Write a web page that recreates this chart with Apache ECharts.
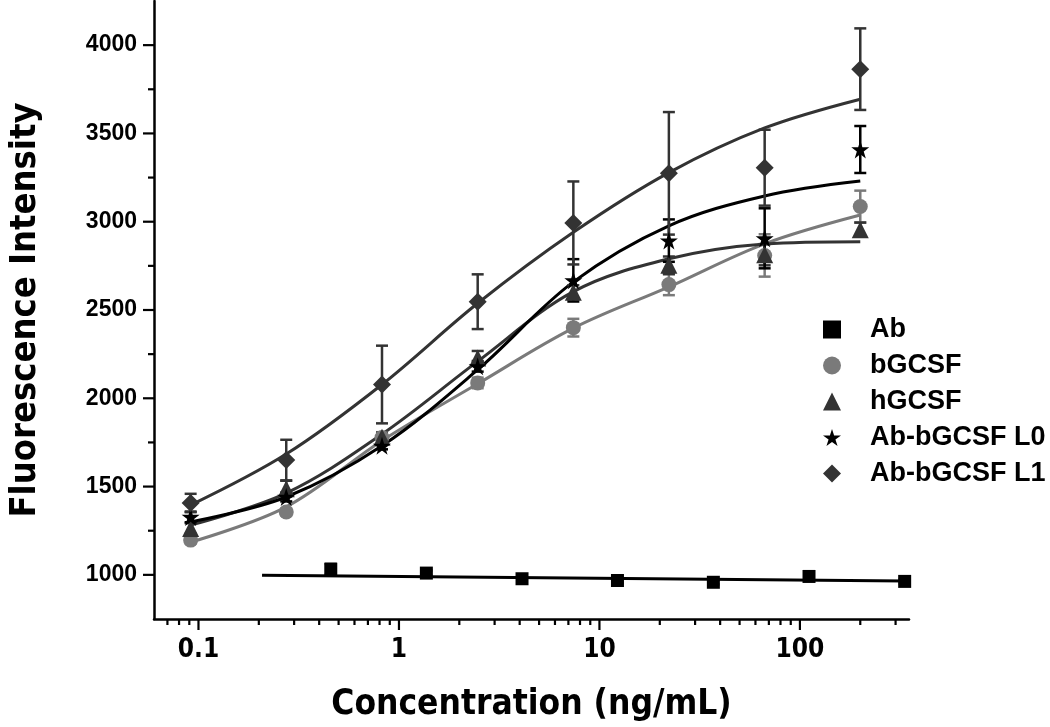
<!DOCTYPE html>
<html>
<head>
<meta charset="utf-8">
<script src="https://cdn.jsdelivr.net/npm/echarts@6/dist/echarts.min.js"></script>
<style>html,body{margin:0;padding:0;background:#fff;}#chart{width:1050px;height:727px;}</style>
</head>
<body>
<div id="chart"></div>
<script>
// ---- data ----
var xMain = [0.0914, 0.274, 0.823, 2.47, 7.41, 22.2, 66.7, 200];
var xAb = [0.457, 1.37, 4.11, 12.3, 37.0, 111, 333];

var abY = [1032, 1010, 978, 968, 958, 991, 963];
var abErr = [30, 15, 12, 12, 12, 15, 12];
var abFitX = [0.2075, 333];
var abFitY = [998, 965];

var bY = [1197, 1356, 1778, 2087, 2400, 2644, 2809, 3086];
var bErr = [20, 20, 30, 30, 50, 60, 120, 90];
var bFit = [1185, 1385, 1760, 2082, 2397, 2631, 2875, 3038];

var hY = [1263, 1488, 1780, 2228, 2600, 2753, 2813, 2955];
var hErr = [30, 45, 25, 40, 40, 50, 60, 40];
var hFit = [1282, 1463, 1797, 2209, 2604, 2790, 2874, 2887];

var l0Y = [1328, 1441, 1731, 2181, 2668, 2893, 2906, 3409];
var l0Err = [30, 25, 20, 30, 120, 120, 170, 133];
var l0Fit = [1300, 1441, 1731, 2162, 2659, 2977, 3146, 3230];

var l1Y = [1407, 1650, 2078, 2547, 2993, 3274, 3306, 3864];
var l1Err = [52, 115, 220, 155, 235, 347, 215, 231];
var l1Fit = [1395, 1684, 2078, 2538, 2940, 3278, 3531, 3694];

var seriesNames = ['Ab', 'bGCSF', 'hGCSF', 'Ab-bGCSF L0', 'Ab-bGCSF L1'];

var xMajorTicks = [0.1, 1, 10, 100];
var xMinorTicks = [0.07, 0.08, 0.09, 0.2, 0.3, 0.4, 0.5, 0.6, 0.7, 0.8, 0.9,
  2, 3, 4, 5, 6, 7, 8, 9, 20, 30, 40, 50, 60, 70, 80, 90, 200, 300];
var yMajorTicks = [1000, 1500, 2000, 2500, 3000, 3500, 4000];
var yMinorTicks = [1250, 1750, 2250, 2750, 3250, 3750];

var X_MIN = 0.06, X_MAX = 350, Y_MIN = 750, Y_MAX = 4250;

// ---- build ----
function pairs(xs, ys) { return xs.map(function (x, i) { return [x, ys[i]]; }); }
function triples(xs, ys, es) { return xs.map(function (x, i) { return [x, ys[i], es[i]]; }); }

var STAR = 'path://M50,0 L61.2,34.5 L97.6,34.5 L68.2,55.9 L79.4,90.5 L50,69.1 L20.6,90.5 L31.8,55.9 L2.4,34.5 L38.8,34.5 Z';
var C_DARK = '#333333', C_GRAY = '#7a7a7a', C_BLACK = '#000000';

function errBarSeries(name, data, color) {
  return {
    type: 'custom', name: name + ' err', z: 3, clip: false, silent: true,
    data: data,
    renderItem: function (params, api) {
      var x = api.value(0), y = api.value(1), e = api.value(2);
      var top = api.coord([x, y + e]);
      var bot = api.coord([x, y - e]);
      var hw = 6;
      var st = { stroke: color, lineWidth: 2.5 };
      return { type: 'group', children: [
        { type: 'line', shape: { x1: top[0], y1: top[1], x2: bot[0], y2: bot[1] }, style: st },
        { type: 'line', shape: { x1: top[0] - hw, y1: top[1], x2: top[0] + hw, y2: top[1] }, style: st },
        { type: 'line', shape: { x1: bot[0] - hw, y1: bot[1], x2: bot[0] + hw, y2: bot[1] }, style: st }
      ]};
    }
  };
}
function fitSeries(name, data, color) {
  return {
    type: 'line', name: name + ' fit', data: data, smooth: 0.35, showSymbol: false, symbol: 'none',
    z: 2, silent: true, lineStyle: { color: color, width: 3 }
  };
}
function pointSeries(name, data, color, symbol, size) {
  return {
    type: 'scatter', name: name, data: data, symbol: symbol, symbolSize: size, z: 5,
    itemStyle: { color: color, opacity: 1 }
  };
}
function tickSeries(name, vals, axis, len) {
  return {
    type: 'custom', name: name, clip: false, silent: true, z: 1,
    data: vals.map(function (v) { return axis === 'x' ? [v, Y_MIN] : [X_MIN, v]; }),
    renderItem: function (params, api) {
      var p = api.coord([api.value(0), api.value(1)]);
      var shape = axis === 'x'
        ? { x1: p[0], y1: p[1], x2: p[0], y2: p[1] + len }
        : { x1: p[0], y1: p[1], x2: p[0] - len, y2: p[1] };
      return { type: 'line', shape: shape, style: { stroke: '#000', lineWidth: 2.2 } };
    }
  };
}

var narrow = "'Liberation Sans Narrow', 'DejaVu Sans Condensed', 'Arial Narrow', sans-serif";
var sans = "'Liberation Sans', Arial, sans-serif";

var option = {
  animation: false,
  backgroundColor: '#ffffff',
  grid: { left: 143, right: 141, top: 1, bottom: 103.5, containLabel: false },
  legend: {
    data: seriesNames, orient: 'vertical', left: 818, top: 311,
    itemWidth: 18, itemHeight: 18, itemGap: 9, selectedMode: false,
    textStyle: { fontFamily: sans, fontWeight: 'bold', fontSize: 27, color: '#000', padding: [0, 0, 0, 24], lineHeight: 26 }
  },
  xAxis: {
    type: 'log', logBase: 10, min: X_MIN, max: X_MAX,
    name: 'Concentration (ng/mL)', nameLocation: 'middle', nameGap: 68,
    nameTextStyle: { fontFamily: narrow, fontWeight: 'bold', fontSize: 35, color: '#000' },
    axisLine: { show: true, onZero: false, lineStyle: { color: '#000', width: 2.5 } },
    axisTick: { show: false }, splitLine: { show: false }, minorTick: { show: false },
    axisLabel: { showMinLabel: false, showMaxLabel: false, margin: 18, color: '#000',
      fontFamily: narrow, fontWeight: 'bold', fontSize: 26,
      formatter: function (v) { return xMajorTicks.indexOf(+(+v).toPrecision(6)) >= 0 ? String(+(+v).toPrecision(6)) : ''; } }
  },
  yAxis: {
    type: 'value', min: Y_MIN, max: Y_MAX, interval: 250,
    name: 'Fluorescence Intensity', nameLocation: 'middle', nameGap: 110, nameRotate: 90,
    nameTextStyle: { fontFamily: narrow, fontWeight: 'bold', fontSize: 36, color: '#000' },
    axisLine: { show: true, onZero: false, lineStyle: { color: '#000', width: 2.5 } },
    axisTick: { show: false }, splitLine: { show: false },
    axisLabel: { margin: 17, color: '#000', fontFamily: sans, fontWeight: 'bold', fontSize: 23,
      formatter: function (v) { return yMajorTicks.indexOf(v) >= 0 ? String(v) : ''; } }
  },
  series: [
    tickSeries('xmaj', xMajorTicks, 'x', 11),
    tickSeries('xmin', xMinorTicks, 'x', 6),
    tickSeries('ymaj', yMajorTicks, 'y', 11),
    tickSeries('ymin', yMinorTicks, 'y', 6),
    fitSeries('Ab', pairs(abFitX, abFitY), C_BLACK),
    fitSeries('bGCSF', pairs(xMain, bFit), C_GRAY),
    fitSeries('hGCSF', pairs(xMain, hFit), C_DARK),
    fitSeries('Ab-bGCSF L0', pairs(xMain, l0Fit), C_BLACK),
    fitSeries('Ab-bGCSF L1', pairs(xMain, l1Fit), C_DARK),
    errBarSeries('Ab', triples(xAb, abY, abErr), C_BLACK),
    errBarSeries('bGCSF', triples(xMain, bY, bErr), C_GRAY),
    errBarSeries('hGCSF', triples(xMain, hY, hErr), C_DARK),
    errBarSeries('Ab-bGCSF L0', triples(xMain, l0Y, l0Err), C_BLACK),
    errBarSeries('Ab-bGCSF L1', triples(xMain, l1Y, l1Err), C_DARK),
    pointSeries('Ab', pairs(xAb, abY), C_BLACK, 'rect', 13),
    pointSeries('bGCSF', pairs(xMain, bY), C_GRAY, 'circle', 15),
    pointSeries('hGCSF', pairs(xMain, hY), C_DARK, 'triangle', 17),
    pointSeries('Ab-bGCSF L0', pairs(xMain, l0Y), C_BLACK, STAR, 18),
    pointSeries('Ab-bGCSF L1', pairs(xMain, l1Y), C_DARK, 'diamond', 18)
  ]
};

var chart = echarts.init(document.getElementById('chart'), null, { renderer: 'canvas' });
chart.setOption(option);
</script>
</body>
</html>
